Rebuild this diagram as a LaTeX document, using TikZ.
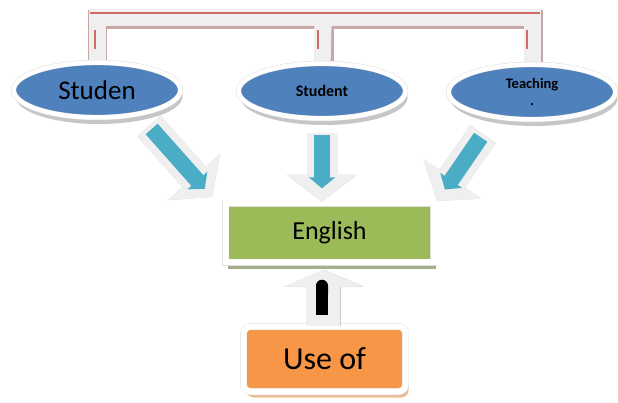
\documentclass[tikz,border=0pt]{standalone}
\usepackage{fontspec}
\setmainfont{Carlito}
\usetikzlibrary{shapes.geometric,arrows.meta,shadows}

\definecolor{ovalblue}{HTML}{4F81BD}
\definecolor{boxgreen}{HTML}{9BBB59}
\definecolor{boxorange}{HTML}{F79646}
\definecolor{arrowcyan}{HTML}{4BACC6}
\definecolor{bracketred}{HTML}{D46A66}
\definecolor{rimgray}{HTML}{EFEFEF}

\tikzset{
  oval/.style={ellipse, fill=ovalblue, draw=gray!30, double=white,
    double distance=4.5pt, minimum width=167pt, minimum height=55pt,
    inner sep=0pt, align=center,
    drop shadow={shadow xshift=2pt, shadow yshift=-6.5pt, fill=gray, opacity=.45}},
  greenbox/.style={rectangle, fill=boxgreen, draw=gray!25, double=white,
    double distance=6pt, minimum width=208pt, minimum height=59pt,
    drop shadow={shadow xshift=2pt, shadow yshift=-7pt, fill=boxgreen!45!gray, opacity=.8}},
  orangebox/.style={rectangle, rounded corners=7pt, fill=boxorange,
    draw=gray!25, double=white, double distance=6pt,
    minimum width=162pt, minimum height=65pt,
    drop shadow={shadow xshift=3pt, shadow yshift=-6pt, fill=boxorange!50!brown!70, opacity=.8}},
  bracketshadow/.style={line width=19pt, draw=red!25!gray!55, line join=miter},
  bracketband/.style={line width=17pt, draw=rimgray, line join=miter},
  bracketline/.style={line width=1.8pt, draw=bracketred},
  fatshadow/.style={line width=31pt, draw=gray!40,
    -{Triangle[length=27pt,width=69pt]}},
  fatrim/.style={line width=31pt, draw=rimgray,
    -{Triangle[length=27pt,width=69pt]}},
  fatcore/.style={line width=16pt, draw=arrowcyan,
    -{Triangle[length=11pt,width=26pt]}},
}

\begin{document}
\begin{tikzpicture}[x=1pt, y=-1pt]

\useasboundingbox (0,0) rectangle (618,403);

% draw bracket over the three ovals

\coordinate (brackettop) at (323,18);

\draw[bracketshadow] (97,72) |- ([shift={(1.5,2)}]brackettop) -| (533,72);
\draw[bracketshadow] (324.5,70) -- (324.5,20);
\draw[bracketband] (97,72) |- (brackettop) -| (532,72);
\draw[bracketband] (322,70) -- (brackettop);

% draw ovals

\node[oval, font=\fontsize{27}{27}\selectfont] (studen) at (97,90) {Studen};
\node[oval, font=\bfseries\fontsize{16}{16}\selectfont] (student) at (322,91) {Student};
\node[oval, font=\bfseries\fontsize{14.5}{12}\selectfont] (teaching) at (532,92) {Teaching\\[5pt].};

\draw[bracketline] (90,13) -- (540,13);
\foreach \n/\dx in {studen/-2, student/-4, teaching/-5}
{
  \draw[bracketline] ([xshift=\dx pt]\n.north |- 0,30) -- ([xshift=\dx pt]\n.north |- 0,49);
}

% draw boxes

\node[greenbox, font=\fontsize{26}{26}\selectfont] (english) at (329.5,233) {English};
\node[orangebox, font=\fontsize{32}{32}\selectfont] (useof) at (324.5,359) {Use of};

% draw arrows into english

\coordinate (studenout) at (149,126);
\coordinate (englishleft) at (212,197);
\coordinate (teachingout) at (483,134);
\coordinate (englishright) at (437,201);

\draw[fatshadow, shift={(2,2)}] (studenout) -- (englishleft);
\draw[fatrim] (studenout) -- (englishleft);
\draw[fatcore, shorten <=4pt, shorten >=11pt] (studenout) -- (englishleft);

\draw[fatshadow, shift={(2,2)}, shorten <=14pt, shorten >=1.5pt] (student.south) -- (student.south |- english.north);
\draw[fatrim, shorten <=14pt, shorten >=1.5pt] (student.south) -- (student.south |- english.north);
\draw[fatcore, shorten <=16pt, shorten >=15pt] (student.south) -- (student.south |- english.north);

\draw[fatshadow, shift={(2,2)}] (teachingout) -- (englishright);
\draw[fatrim] (teachingout) -- (englishright);
\draw[fatcore, shorten <=4pt, shorten >=14pt] (teachingout) -- (englishright);

% draw arrow from use of

\draw[line width=34pt, draw=gray!40, shorten >=7pt, -{Triangle[length=17pt,width=79pt]}, shift={(1,2)}] (useof.north -| 323,0) -- (english.south -| 323,0);
\draw[line width=34pt, draw=rimgray, shorten >=7pt, -{Triangle[length=17pt,width=79pt]}] (useof.north -| 323,0) -- (english.south -| 323,0);
\draw[line width=12pt, draw=black, shorten <=11pt, shorten >=17pt, -{Round Cap}] (useof.north -| 322,0) -- (english.south -| 322,0);

\end{tikzpicture}
\end{document}
